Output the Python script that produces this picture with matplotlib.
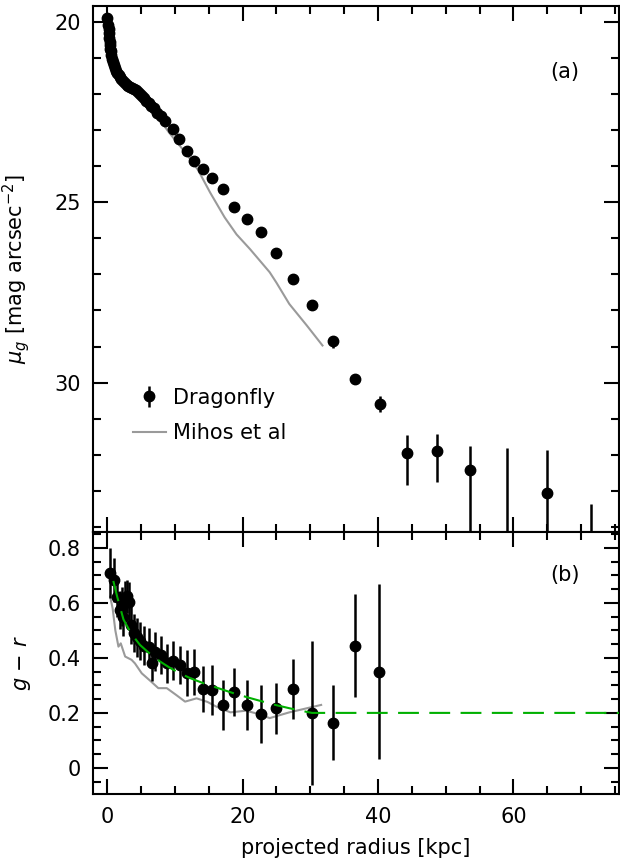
import matplotlib
matplotlib.use("Agg")
import matplotlib.pyplot as plt
from matplotlib.lines import Line2D
from matplotlib.ticker import MultipleLocator

plt.rcParams['font.family'] = 'DejaVu Sans'
plt.rcParams['mathtext.fontset'] = 'dejavusans'

# --- surface brightness profile (panel a) ---
r_df = [0.0, 0.15, 0.2, 0.25, 0.3, 0.35, 0.4, 0.45, 0.5, 0.6, 0.7, 0.8, 0.95,
        1.1, 1.3, 1.5, 1.7, 1.9, 2.1, 2.35, 2.6, 2.85, 3.1, 3.4, 3.7, 4.0,
        4.3, 4.6, 4.9, 5.2, 5.5, 5.8, 6.1, 6.5, 6.9, 7.4, 7.9, 8.6, 9.66,
        10.54, 11.72, 12.84, 14.17, 15.54, 17.11, 18.77, 20.64, 22.7, 25.0,
        27.5, 30.25, 33.3, 36.6, 40.3, 44.3, 48.7, 53.6, 59.0, 64.9, 71.4]
mu_df = [19.9, 20.1, 20.2, 20.32, 20.44, 20.55, 20.65, 20.74, 20.82, 20.93,
         21.02, 21.1, 21.2, 21.28, 21.36, 21.42, 21.47, 21.52, 21.58, 21.64,
         21.7, 21.75, 21.78, 21.81, 21.84, 21.87, 21.9, 21.94, 22.0, 22.06,
         22.12, 22.18, 22.24, 22.32, 22.4, 22.52, 22.62, 22.75, 22.96, 23.26,
         23.58, 23.86, 24.09, 24.32, 24.62, 25.14, 25.47, 25.82, 26.41, 27.13,
         27.85, 28.85, 29.89, 30.58, 31.94, 31.89, 32.43, 35.0, 33.05, 35.5]
outer_lo = [0.04, 0.05, 0.06, 0.08, 0.1, 0.12, 0.1, 0.2,
            0.49, 0.48, 0.68, 3.18, 1.17, 2.13]
outer_hi = [0.04, 0.05, 0.06, 0.08, 0.1, 0.2, 0.1, 0.23,
            0.9, 0.86, 2.0, 3.0, 2.0, 2.0]
n_inner = len(r_df) - len(outer_lo)
mu_err_lo = [0.03] * n_inner + outer_lo
mu_err_hi = [0.03] * n_inner + outer_hi

r_mihos = [0.5, 1.5, 3.0, 5.0, 6.5, 8.3, 9.1, 11.7, 13.4, 15.2, 17.35, 19.1,
           21.1, 24.0, 25.0, 26.9, 29.5, 31.8]
mu_mihos = [20.9, 21.45, 21.78, 22.06, 22.35, 22.85, 23.06, 23.66, 24.1,
            24.73, 25.42, 25.89, 26.3, 26.94, 27.23, 27.82, 28.42, 28.97]

# --- colour profile (panel b) ---
r_col = [0.44, 0.93, 1.4, 1.9, 2.16, 2.4, 2.65, 2.9, 3.15, 3.5, 3.9, 4.4,
         4.87, 5.5, 6.1, 6.57, 7.1, 8.0, 8.8, 9.7, 10.7, 11.8, 12.84, 14.1,
         15.5, 17.06, 18.77, 20.6, 22.7, 25.0, 27.5, 30.25, 33.3, 36.6, 40.2]
gr = [0.708, 0.684, 0.62, 0.575, 0.587, 0.55, 0.61, 0.625, 0.605, 0.52, 0.49,
      0.475, 0.462, 0.445, 0.44, 0.381, 0.423, 0.41, 0.38, 0.39, 0.375, 0.344,
      0.348, 0.287, 0.284, 0.229, 0.277, 0.227, 0.195, 0.216, 0.287, 0.201,
      0.165, 0.445, 0.35]
gr_err = [0.09, 0.08, 0.07, 0.07, 0.07, 0.07, 0.07, 0.06, 0.07, 0.07, 0.07,
          0.07, 0.07, 0.07, 0.07, 0.065, 0.07, 0.07, 0.07, 0.07, 0.07, 0.084,
          0.084, 0.085, 0.091, 0.09, 0.088, 0.091, 0.106, 0.092, 0.109, 0.262,
          0.135, 0.188, 0.318]

r_fit = [0.9, 1.5, 2.4, 3.5, 4.85, 6.3, 7.8, 9.2, 10.7, 12.4, 14.2, 16.4,
         18.6, 20.8, 23.0, 25.0, 26.9, 28.6, 30.25, 76.0]
gr_fit = [0.68, 0.62, 0.54, 0.49, 0.447, 0.415, 0.387, 0.365, 0.344, 0.325,
          0.308, 0.29, 0.272, 0.256, 0.241, 0.228, 0.217, 0.208, 0.2, 0.2]

r_mihos_col = [0.44, 0.8, 1.2, 1.66, 2.0, 2.65, 3.6, 4.1, 5.1, 6.3, 7.55, 8.8,
               10.2, 11.5, 13.2, 14.8, 16.1, 18.2, 20.5, 22.5, 24.0, 26.9, 31.6]
gr_mihos = [0.623, 0.58, 0.5, 0.441, 0.453, 0.405, 0.393, 0.38, 0.344, 0.318,
            0.29, 0.29, 0.265, 0.241, 0.253, 0.24, 0.223, 0.202, 0.208, 0.195,
            0.181, 0.202, 0.229]

W, H = 620, 863
fig = plt.figure(figsize=(W / 100, H / 100), dpi=100)
x0, x1 = 93 / W, 619 / W
ax1 = fig.add_axes([x0, 1 - 532 / H, x1 - x0, 526 / H])
ax2 = fig.add_axes([x0, 1 - 794 / H, x1 - x0, 262 / H])

grey = '#9a9a9a'
green = '#00b000'

ax1.plot(r_mihos, mu_mihos, color=grey, lw=1.5, zorder=1)
ax1.errorbar(r_df, mu_df, yerr=[mu_err_lo, mu_err_hi], fmt='o', color='black',
             ms=7.5, elinewidth=1.8, capsize=0, zorder=2)

ax2.plot(r_mihos_col, gr_mihos, color=grey, lw=1.5, zorder=1)
ax2.plot(r_fit, gr_fit, color=green, lw=1.5, dashes=(10, 5), zorder=3)
ax2.errorbar(r_col, gr, yerr=gr_err, fmt='o', color='black', ms=7.5,
             elinewidth=1.8, capsize=0, zorder=2)

for ax in (ax1, ax2):
    ax.set_xlim(-2.1, 75.6)
    ax.xaxis.set_major_locator(MultipleLocator(20))
    ax.xaxis.set_minor_locator(MultipleLocator(5))
    ax.tick_params(which='both', direction='in', top=True, right=True,
                   width=1.5, labelsize=15)
    ax.tick_params(which='major', length=11, pad=9)
    ax.tick_params(which='minor', length=6)
    for s in ax.spines.values():
        s.set_linewidth(1.5)

ax1.set_ylim(34.14, 19.56)
ax1.yaxis.set_major_locator(MultipleLocator(5))
ax1.yaxis.set_minor_locator(MultipleLocator(1))
ax1.tick_params(labelbottom=False)
ax1.set_ylabel(r'$\mu_g$ [mag arcsec$^{-2}$]', fontsize=15, labelpad=16)
ax1.text(0.897, 0.875, '(a)', transform=ax1.transAxes, fontsize=15,
         ha='center', va='center')

ax2.set_ylim(-0.095, 0.858)
ax2.yaxis.set_major_locator(MultipleLocator(0.2))
ax2.yaxis.set_minor_locator(MultipleLocator(0.05))
ax2.set_yticks([0, 0.2, 0.4, 0.6, 0.8])
ax2.set_yticklabels(['0', '0.2', '0.4', '0.6', '0.8'])
ax2.set_ylabel(r'$g$ $-$ $r$', fontsize=15, labelpad=10)
ax2.set_xlabel('projected radius [kpc]', fontsize=15, labelpad=8)
ax2.text(0.897, 0.836, '(b)', transform=ax2.transAxes, fontsize=15,
         ha='center', va='center')

h_df = ax1.errorbar([], [], yerr=[], fmt='o', color='black', ms=7.5,
                    elinewidth=1.8, capsize=0)
h_mi = Line2D([], [], color=grey, lw=1.5)
ax1.legend([h_df, h_mi], ['Dragonfly', 'Mihos et al'], loc='upper left',
           bbox_to_anchor=(0.04, 0.31), frameon=False, fontsize=15,
           handlelength=1.6, handletextpad=0.35, labelspacing=0.75)

fig.savefig('out.png', dpi=100)
